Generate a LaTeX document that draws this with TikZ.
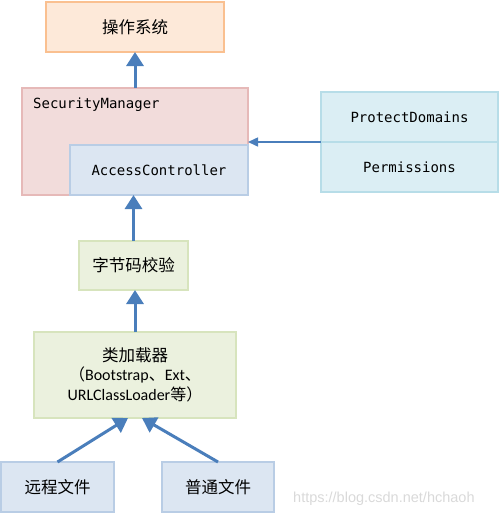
\documentclass[tikz,border=0pt]{standalone}
\usepackage{fontspec}
\setmainfont{Noto Sans CJK SC}
\newfontfamily\cjk{Noto Sans CJK SC}
\newfontfamily\monof{DejaVu Sans Mono}
\newfontfamily\calf{Carlito}
\newfontfamily\arialf{Liberation Sans}
\usetikzlibrary{arrows.meta}
\definecolor{osfill}{HTML}{FDE9D9}\definecolor{osdraw}{HTML}{FAC090}
\definecolor{smfill}{HTML}{F2DCDB}\definecolor{smdraw}{HTML}{E6B9B8}
\definecolor{acfill}{HTML}{DCE6F2}\definecolor{acdraw}{HTML}{B9CDE5}
\definecolor{pdfill}{HTML}{DBEEF4}\definecolor{pddraw}{HTML}{B7DDE8}
\definecolor{bcfill}{HTML}{EBF1DE}\definecolor{bcdraw}{HTML}{D7E4BD}
\definecolor{arr}{HTML}{4A7EBB}
\begin{document}
\begin{tikzpicture}[x=1pt,y=-1pt,
  box/.style={draw, line width=1.5pt, inner sep=0pt, outer sep=0pt, align=center},
  cn/.style={font=\fontsize{16.5}{19}\selectfont\cjk},
  mn/.style={font=\fontsize{14}{17}\selectfont\monof},
  bigarrow/.style={draw=arr, line width=3pt, -{Triangle[width=17pt,length=14pt]}},
  smallarrow/.style={draw=arr, line width=1.5pt, -{Triangle[width=9pt,length=10pt]}}]
\useasboundingbox (0,0) rectangle (500,514);
\node[box, fill=osfill, draw=osdraw, minimum width=178pt, minimum height=50pt, cn] (os) at (135,27) {操作系统};
\node[box, fill=smfill, draw=smdraw, minimum width=226pt, minimum height=107pt] (sm) at (135,141.5) {};
\node[mn, anchor=west, inner sep=0pt] (smlabel) at (33,105) {SecurityManager};
\node[box, fill=acfill, draw=acdraw, minimum width=178pt, minimum height=50pt, mn] (ac) at (159,170) {AccessController};
\node[box, fill=pdfill, draw=pddraw, minimum width=177pt, minimum height=50pt, mn] (pd) at (409.5,117) {ProtectDomains};
\node[box, fill=pdfill, draw=pddraw, minimum width=177pt, minimum height=50pt, mn] (perm) at (409.5,167) {Permissions};
\node[box, fill=bcfill, draw=bcdraw, minimum width=109pt, minimum height=49pt, cn] (bc) at (133.5,265.5) {字节码校验};
\node[box, fill=bcfill, draw=bcdraw, minimum width=202pt, minimum height=86pt] (cl) at (135,375)
  {{\fontsize{16.5}{19}\selectfont\cjk 类加载器}\\[3pt]
   {\fontsize{16}{18}\selectfont{\cjk （}{\calf Bootstrap}{\cjk 、}{\calf Ext}{\cjk 、}}\\[3pt]
   {\fontsize{16}{18}\selectfont{\calf URLClassLoader}{\cjk 等）}}};
\node[font=\fontsize{14.5}{16}\selectfont\arialf, text=black!15, anchor=west, inner sep=0pt] (wm) at (293,499) {https://blog.csdn.net/hchaoh};
\node[box, fill=acfill, draw=acdraw, minimum width=113pt, minimum height=50pt, cn] (rf) at (57.5,487) {远程文件};
\node[box, fill=acfill, draw=acdraw, minimum width=112pt, minimum height=50pt, cn] (nf) at (218,487) {普通文件};
\draw[bigarrow] (sm.north) -- (os.south);
\draw[bigarrow] (bc.north) -- (bc.north |- ac.south);
\draw[bigarrow] (cl.north) -- (cl.north |- bc.south);
\draw[smallarrow] (pd.south west) -- (pd.south west -| sm.east);
\draw[bigarrow] (rf.north) -- ([xshift=-7pt]cl.south);
\draw[bigarrow] (nf.north) -- ([xshift=7pt]cl.south);
\end{tikzpicture}
\end{document}
